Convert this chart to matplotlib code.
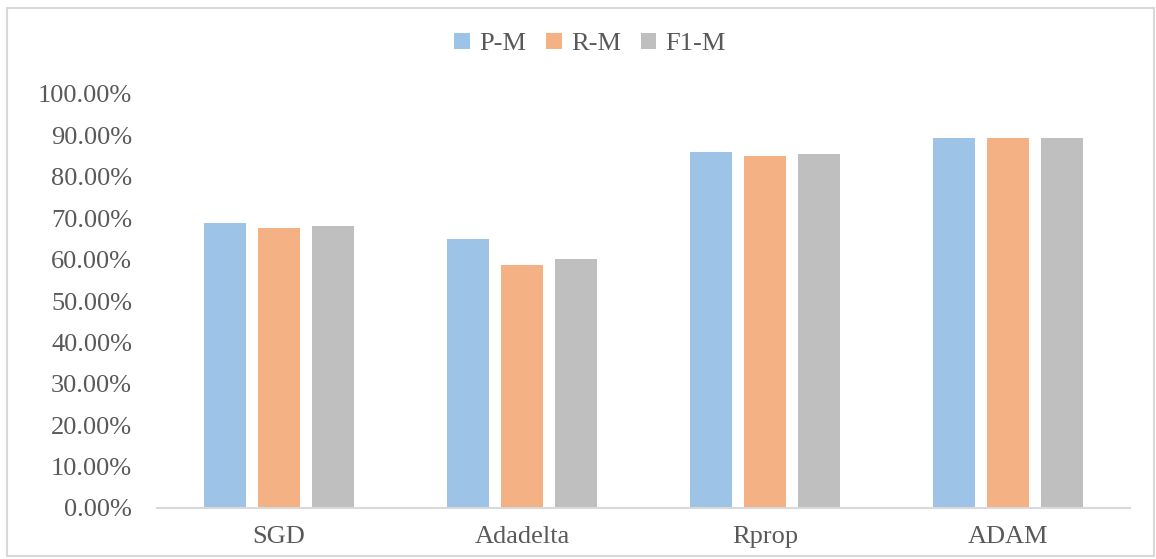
import matplotlib
matplotlib.use("Agg")
import matplotlib.pyplot as plt
import numpy as np
from matplotlib.patches import Rectangle
from matplotlib.ticker import FuncFormatter

categories = ["SGD", "Adadelta", "Rprop", "ADAM"]
series_names = ["P-M", "R-M", "F1-M"]
p_m = [0.689, 0.649, 0.861, 0.894]
r_m = [0.676, 0.587, 0.851, 0.894]
f1_m = [0.681, 0.601, 0.856, 0.893]
yticks = [i / 10 for i in range(11)]

colors = ["#9DC3E6", "#F4B183", "#BFBFBF"]
text_color = "#595959"
font = "Liberation Serif"

W, H = 1156, 559
fig = plt.figure(figsize=(W / 100, H / 100), dpi=100)
fig.patch.set_facecolor("white")

# chart border
fig.add_artist(Rectangle((7 / W, 3 / H), (W - 9) / W, (H - 11) / H,
                         transform=fig.transFigure, fill=False,
                         edgecolor="#D9D9D9", linewidth=1.5))

ax = fig.add_axes([157 / W, 1 - 508 / H, (1130 - 157) / W, (508 - 94) / H])
x = np.arange(len(categories))
bw = 42 / 243.25
gap = 12 / 243.25
for i, (vals, name) in enumerate(zip([p_m, r_m, f1_m], series_names)):
    off = (i - 1) * (bw + gap)
    ax.bar(x + off, vals, width=bw, color=colors[i], label=name)

ax.set_xlim(-0.5, len(categories) - 0.5)
ax.set_ylim(0, 1.0)
ax.set_yticks(yticks)
ax.yaxis.set_major_formatter(FuncFormatter(lambda v, p: f"{v*100:.2f}%"))
ax.set_xticks(x)
ax.set_xticklabels(categories)
for s in ["top", "right", "left"]:
    ax.spines[s].set_visible(False)
ax.spines["bottom"].set_color("#D9D9D9")
ax.spines["bottom"].set_linewidth(1.5)
ax.tick_params(axis="y", length=0, pad=18, labelsize=19, labelcolor=text_color)
ax.tick_params(axis="x", length=0, pad=13, labelsize=19, labelcolor=text_color)
for lbl in ax.get_xticklabels() + ax.get_yticklabels():
    lbl.set_fontfamily(font)

leg = fig.legend(loc="center", bbox_to_anchor=(590 / W, 1 - 44 / H), ncol=3,
                 frameon=False, handlelength=0.6, handleheight=0.6,
                 handletextpad=0.35, columnspacing=0.75,
                 prop={"family": font, "size": 19})
for t in leg.get_texts():
    t.set_color(text_color)

fig.savefig("out.png", dpi=100, facecolor="white")
